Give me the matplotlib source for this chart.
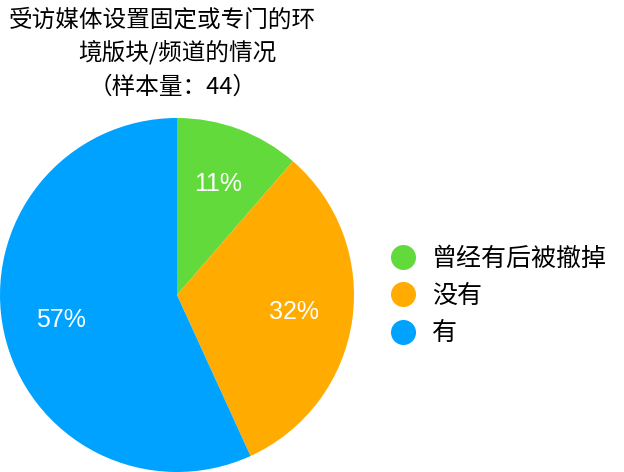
import matplotlib.pyplot as plt
from matplotlib.lines import Line2D

plt.rcParams['font.family'] = ['Noto Sans CJK SC', 'DejaVu Sans']

labels = ['曾经有后被撤掉', '没有', '有']
counts = [5, 14, 25]
colors = ['#62DA3C', '#FFAB00', '#00A2FF']
title_lines = ['受访媒体设置固定或专门的环', '境版块/频道的情况', '（样本量：44）']

W, H = 624, 472
fig = plt.figure(figsize=(W / 100, H / 100), dpi=100)

cx, cy, r = 177, 295, 177
ax = fig.add_axes([(cx - r) / W, (H - cy - r) / H, 2 * r / W, 2 * r / H])
wedges, texts, autotexts = ax.pie(counts, colors=colors, startangle=90, counterclock=False,
                                  autopct='%.0f%%', pctdistance=0.67,
                                  textprops={'color': 'white', 'fontsize': 18,
                                             'family': ['Liberation Sans', 'DejaVu Sans']})
ax.set_xlim(-1, 1)
ax.set_ylim(-1, 1)
ax.set_aspect('equal')

# title, one line at a time
title_x = [162, 177, 173]
title_y = [20, 53, 87]
for t, x, y in zip(title_lines, title_x, title_y):
    fig.text(x / W, 1 - y / H, t, ha='center', va='center', fontsize=17,
             family=['Noto Sans CJK SC', 'Liberation Sans'])

handles = [Line2D([], [], marker='o', linestyle='none', markersize=17,
                  markerfacecolor=c, markeredgecolor=c) for c in colors]
fig.legend(handles, labels, loc='center left', bbox_to_anchor=(384 / W, 1 - 296 / H),
           frameon=False, fontsize=18, handletextpad=0.42, labelspacing=0.46,
           handlelength=1.5, borderpad=0, borderaxespad=0)

fig.savefig('out.png', dpi=100)
